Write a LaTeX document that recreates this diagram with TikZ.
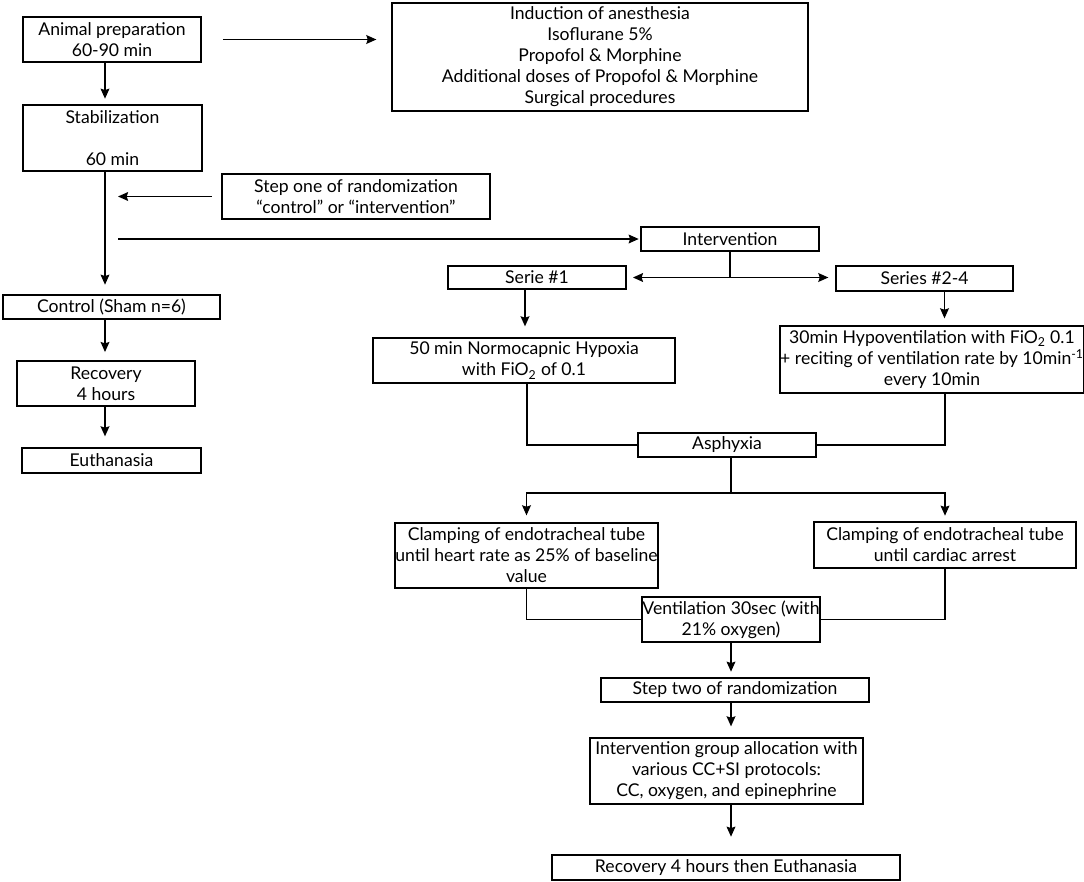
\documentclass[tikz,border=0pt]{standalone}
\usepackage{fontspec}
\setmainfont{Lato}
\usetikzlibrary{arrows.meta,positioning,calc}

\begin{document}
\begin{tikzpicture}[x=0.75pt,y=-0.75pt,
    font=\fontsize{13.2}{15.75}\selectfont,
    box/.style={draw, line width=1.4pt, align=center, inner sep=0pt},
    dims/.style 2 args={minimum width=#1*0.75pt, minimum height=#2*0.75pt},
    arr/.style={line width=1.4pt, -{Stealth[length=7.5pt,width=6.5pt,inset=1pt]}},
    link/.style={line width=1.4pt}]
\useasboundingbox (0,0) rectangle (1084,881);

% left column
\node[box, dims={178}{45}] (prep) at (112,39.5) {Animal preparation\\60-90 min};
\node[box, dims={416}{108}] (induct) at (600,57) {Induction of anesthesia\\Isoflurane 5\%\\Propofol \& Morphine\\Additional doses of Propofol \& Morphine\\Surgical procedures};
\node[box, dims={179}{66}] (stab) at (112.5,138) {Stabilization\\ \\60 min};
\node[box, dims={268}{45}] (stepone) at (356,196.5) {Step one of randomization\\“control” or “intervention”};
\node[box, dims={217}{24}] (control) at (111.5,307) {Control (Sham n=6)};
\node[box, dims={178}{45}] (recov) at (106,383.5) {Recovery\\4 hours};
\node[box, dims={179}{25}] (euth) at (111.5,460.5) {Euthanasia};

% right part
\node[box, dims={178}{24}] (interv) at (730,239) {Intervention};
\node[box, dims={178}{23}] (serie1) at (537,277.5) {Serie \#1};
\node[box, dims={177}{25}] (series24) at (924.5,278.5) {Series \#2-4};
\node[box, dims={302}{45}] (normo) at (524,360.5) {50 min Normocapnic Hypoxia\\with FiO\textsubscript{2} of 0.1};
\node[box, dims={300}{67}] (hypo) at (932,359.5) {30min Hypoventilation with FiO\textsubscript{2} 0.1\\+ reciting of ventilation rate by 10min\textsuperscript{-1}\\every 10min};
\node[box, dims={178}{24}] (asph) at (727,445) {Asphyxia};
\node[box, dims={261}{65}] (clampA) at (526.5,555.5) {Clamping of endotracheal tube\\until heart rate as 25\% of baseline\\value};
\node[box, dims={262}{46}] (clampB) at (945,545) {Clamping of endotracheal tube\\until cardiac arrest};
\node[box, dims={178}{45}] (vent) at (731,619.5) {Ventilation 30sec (with\\21\% oxygen)};
\node[box, dims={268}{24}] (steptwo) at (735,690) {Step two of randomization};
\node[box, dims={273}{66}] (group) at (726.5,771) {Intervention group allocation with\\various CC+SI protocols:\\CC, oxygen, and epinephrine};
\node[box, dims={348}{25}] (final) at (726,867.5) {Recovery 4 hours then Euthanasia};

\coordinate (spine) at (105,0);
\coordinate (gapL) at (118,0);

\draw[arr] ([xshift=15.75pt]prep.east) -- ([xshift=-11pt]induct.west |- prep.east);
\draw[arr, shorten >=4pt] (prep.south -| spine) -- (stab.north -| spine);
\draw[arr, shorten >=7pt] (stab.south -| spine) -- (control.north -| spine);
\draw[arr] ([xshift=-7pt]stepone.west) -- (stepone.west -| gapL);
\draw[arr, shorten >=1pt] (gapL |- interv.west) -- (interv.west);
\draw[arr, shorten >=6pt] (control.south -| spine) -- (recov.north -| spine);
\draw[arr, shorten >=8pt] (recov.south -| spine) -- (euth.north -| spine);

% intervention branch
\coordinate (fork) at (interv.south |- serie1.east);
\draw[link] (interv.south) -- (fork);
\draw[arr, shorten >=4.5pt] (fork) -- (serie1.east);
\draw[arr, shorten >=5pt] (fork) -- (series24.west |- fork);
\draw[arr, shorten >=8pt] ([xshift=-9pt]serie1.south) -- ([xshift=-9pt]serie1.south |- normo.north);
\draw[arr, shorten >=5pt] ([xshift=15pt]series24.south) -- ([xshift=15pt]series24.south |- hypo.north);
\draw[link] ([xshift=2pt]normo.south) |- (asph.west);
\draw[link] ([xshift=9.75pt]hypo.south) |- (asph.east);

\draw[link] ([xshift=3pt]asph.south) -- ++(0,35) coordinate (split);
\draw[arr, shorten >=5pt] (split) -| (clampA.north);
\draw[arr, shorten >=4pt] (split) -| (clampB.north);
\draw[link] (clampA.south) |- (vent.west);
\draw[link] (clampB.south) |- (vent.east);

\draw[arr, shorten >=4pt] (vent.south) -- (vent.south |- steptwo.north);
\draw[arr, shorten >=8pt] (vent.south |- steptwo.south) -- (vent.south |- group.north);
\draw[arr, shorten >=13pt] (vent.south |- group.south) -- (vent.south |- final.north);
\end{tikzpicture}
\end{document}
